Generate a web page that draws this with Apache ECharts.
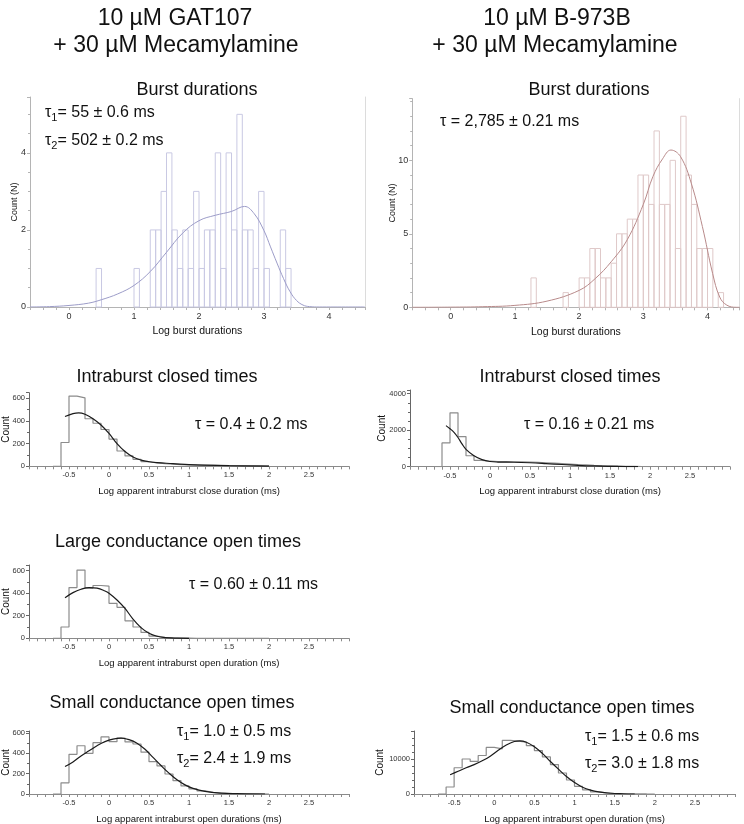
<!DOCTYPE html>
<html><head><meta charset="utf-8">
<script src="https://cdn.jsdelivr.net/npm/echarts@6/dist/echarts.min.js"></script>
<style>html,body{margin:0;padding:0;background:#fff}#c{width:744px;height:824px}</style>
</head><body><div id="c"></div>
<script>
// ---------------- DATA ----------------
// Burst durations, GAT107 (histogram bins: left edge, width, count)
const burstBinWidth = 0.0833;
const gatBurstLo = [0.417, 1.0, 1.25, 1.333, 1.417, 1.5, 1.583, 1.667, 1.75, 1.833, 1.917, 2.0, 2.083, 2.167, 2.25, 2.333, 2.417, 2.5, 2.583, 2.667, 2.75, 2.833, 2.917, 3.0, 3.25, 3.333];
const gatBurstCounts = [1, 1, 2, 2, 3, 4, 2, 1, 2, 1, 3, 1, 2, 2, 4, 1, 4, 2, 5, 2, 2, 1, 3, 1, 2, 1];
const gatBurstFitX = [-0.6, -0.3, 0, 0.3, 0.5, 0.75, 1.0, 1.25, 1.5, 1.75, 2.0, 2.25, 2.5, 2.7, 2.85, 3.0, 3.1, 3.2, 3.3, 3.4, 3.5, 3.6, 3.7, 3.85, 4.55];
const gatBurstFitY = [0, 0.01, 0.04, 0.1, 0.19, 0.34, 0.56, 0.92, 1.42, 1.92, 2.24, 2.38, 2.48, 2.61, 2.42, 1.98, 1.56, 1.14, 0.74, 0.4, 0.17, 0.05, 0.01, 0, 0];

// Burst durations, B-973B
const bBurstLo = [1.25, 1.75, 2.0, 2.083, 2.167, 2.25, 2.333, 2.417, 2.5, 2.583, 2.667, 2.75, 2.833, 2.917, 3.0, 3.083, 3.167, 3.25, 3.333, 3.417, 3.5, 3.583, 3.667, 3.75, 3.833, 3.917, 4.0, 4.167];
const bBurstCounts = [2, 1, 2, 2, 4, 4, 2, 2, 3, 5, 5, 6, 6, 9, 9, 7, 12, 7, 7, 10, 4, 13, 9, 7, 4, 4, 4, 1];
const bBurstFitX = [-0.6, 0, 0.5, 1.0, 1.5, 2.0, 2.25, 2.5, 2.75, 3.0, 3.15, 3.3, 3.43, 3.58, 3.75, 3.92, 4.08, 4.19, 4.3, 4.45, 4.5];
const bBurstFitY = [0, 0.01, 0.04, 0.13, 0.42, 1.15, 1.95, 3.1, 4.6, 7.0, 8.9, 10.1, 10.7, 10.25, 8.4, 5.5, 2.3, 0.7, 0.15, 0, 0];

// Shared bin edges of the log-duration histograms (28 edges, 27 bins)
const logEdges = [-0.7, -0.6, -0.5, -0.4, -0.3, -0.2, -0.1, 0, 0.1, 0.2, 0.3, 0.4, 0.5, 0.6, 0.7, 0.8, 0.9, 1.0, 1.1, 1.2, 1.3, 1.4, 1.5, 1.6, 1.7, 1.8, 1.9, 2.0];

// Intraburst closed times, GAT107
const gatClosedCounts = [0, 210, 620, 605, 420, 380, 325, 240, 135, 92, 62, 42, 30, 24, 19, 15, 12, 10, 9, 8, 7, 6, 5, 4, 3, 3, 2];
const gatClosedFitX = [-0.55, -0.45, -0.38, -0.3, -0.2, -0.1, 0, 0.1, 0.2, 0.3, 0.4, 0.5, 0.6, 0.8, 1.0, 1.2, 1.5, 2.0];
const gatClosedFitY = [440, 465, 472, 460, 420, 365, 290, 200, 130, 82, 55, 40, 32, 24, 15, 10, 6, 2];

// Intraburst closed times, B-973B
const bClosedCounts = [0, 1300, 2950, 1650, 600, 350, 300, 280, 275, 270, 260, 250, 235, 215, 195, 170, 145, 120, 100, 80, 62, 48, 36, 26, 18, 12, 8];
const bClosedFitX = [-0.55, -0.5, -0.45, -0.4, -0.35, -0.3, -0.2, -0.1, 0, 0.1, 0.3, 0.5, 0.7, 0.9, 1.1, 1.3, 1.5, 1.7, 1.85];
const bClosedFitY = [2250, 2080, 1880, 1600, 1250, 950, 600, 390, 285, 255, 245, 215, 170, 120, 75, 40, 20, 8, 2];

// Large conductance open times, GAT107
const gatLargeCounts = [0, 100, 450, 605, 445, 468, 462, 310, 275, 155, 100, 52, 20, 8, 4, 2, 1, 0, 0, 0, 0, 0, 0, 0, 0, 0, 0];
const gatLargeFitX = [-0.55, -0.45, -0.35, -0.25, -0.15, -0.05, 0, 0.1, 0.2, 0.3, 0.4, 0.5, 0.6, 0.7, 0.85, 1.0];
const gatLargeFitY = [360, 405, 435, 450, 445, 420, 400, 340, 265, 170, 95, 45, 18, 6, 1, 0];

// Small conductance open times, GAT107
const gatSmallCounts = [0, 110, 390, 475, 400, 505, 562, 515, 550, 512, 492, 412, 318, 276, 197, 131, 79, 50, 30, 16, 9, 5, 3, 2, 1, 1, 0];
const gatSmallFitX = [-0.55, -0.45, -0.35, -0.25, -0.15, -0.05, 0.05, 0.15, 0.25, 0.35, 0.45, 0.55, 0.65, 0.75, 0.85, 0.95, 1.05, 1.2, 1.4, 1.6, 1.95];
const gatSmallFitY = [270, 315, 375, 425, 475, 515, 540, 550, 535, 500, 440, 360, 280, 205, 140, 90, 55, 25, 8, 3, 0];

// Small conductance open times, B-973B
const bSmallCounts = [0, 2000, 7500, 10000, 9300, 11000, 13300, 12900, 15300, 15100, 14800, 13800, 12400, 10600, 8400, 6000, 4000, 2200, 1200, 600, 300, 150, 80, 40, 20, 10, 5];
const bSmallFitX = [-0.55, -0.45, -0.35, -0.25, -0.15, -0.05, 0.05, 0.15, 0.25, 0.32, 0.4, 0.5, 0.6, 0.7, 0.8, 0.9, 1.0, 1.1, 1.2, 1.3, 1.45, 1.6, 1.75];
const bSmallFitY = [5500, 6500, 7500, 8400, 9500, 10800, 12500, 14000, 15000, 15200, 14800, 13500, 11600, 9300, 7100, 5000, 3300, 1950, 1100, 600, 220, 70, 0];

// ---------------- BUILD ----------------
const FONT = 'Liberation Sans, Arial, sans-serif';
const grids = [], xAxes = [], yAxes = [], series = [];
const plainNum = v => String(v);

function pairs(xs, ys) { return xs.map((x, i) => [x, ys[i]]); }
function stepData(edges, counts) {
  const d = counts.map((c, i) => [edges[i], c]);
  d.push([edges[counts.length], counts[counts.length - 1]]);
  return d;
}

function addPanel(p) {
  const gi = grids.length;
  grids.push({ left: p.left, top: p.top, width: p.width, height: p.height, outerBoundsMode: 'none', containLabel: false });
  const xa = {
    gridIndex: gi, type: 'value', min: p.xmin, max: p.xmax,
    name: p.xname, nameLocation: 'middle', nameGap: p.xnameGap, nameMoveOverlap: false,
    nameTextStyle: { fontSize: p.xnameSize, color: '#111', fontFamily: FONT },
    axisLine: { onZero: false, lineStyle: { color: p.axisColor, width: 1 } },
    axisTick: { show: true, length: 3, lineStyle: { color: p.axisColor } },
    minorTick: { show: true, splitNumber: p.xMinor, length: 3, lineStyle: { color: p.axisColor } },
    axisLabel: { fontSize: p.tickSize, color: '#333', margin: 5, fontFamily: FONT, showMinLabel: false, showMaxLabel: false, formatter: plainNum },
    splitLine: { show: false }
  };
  if (p.xinterval) xa.interval = p.xinterval; else xa.splitNumber = 5;
  xAxes.push(xa);
  const yi = yAxes.length;
  yAxes.push({
    gridIndex: gi, type: 'value', min: 0, max: p.ymax, interval: p.yinterval,
    name: p.yname, nameLocation: 'middle', nameGap: p.ynameGap, nameMoveOverlap: false,
    nameTextStyle: { fontSize: p.ynameSize, color: '#111', fontFamily: FONT },
    axisLine: { onZero: false, lineStyle: { color: p.yAxisColor || p.axisColor, width: 1 } },
    axisTick: { show: true, length: 3, lineStyle: { color: p.yAxisColor || p.axisColor } },
    minorTick: { show: true, splitNumber: p.yMinor, length: 2, lineStyle: { color: p.yAxisColor || p.axisColor } },
    axisLabel: { fontSize: p.tickSize, color: '#333', margin: 4, fontFamily: FONT, showMaxLabel: false, formatter: plainNum },
    splitLine: { show: false }
  });
  if (p.rightBorder) {
    yAxes.push({
      gridIndex: gi, type: 'value', position: 'right', min: 0, max: p.ymax,
      axisLine: { show: true, onZero: false, lineStyle: { color: p.rightBorder } },
      axisTick: { show: false }, axisLabel: { show: false }, splitLine: { show: false }
    });
  }
  if (p.rects) {
    const col = p.histColor;
    series.push({
      type: 'custom', xAxisIndex: gi, yAxisIndex: yi, silent: true, z: 2,
      data: p.rects.lo.map((l, i) => [l, l + p.rects.w, p.rects.counts[i]]),
      encode: { x: [0, 1], y: 2 },
      renderItem: function (params, api) {
        const a = api.coord([api.value(0), 0]);
        const b = api.coord([api.value(1), api.value(2)]);
        return { type: 'rect', shape: { x: a[0], y: b[1], width: b[0] - a[0], height: a[1] - b[1] },
                 style: { fill: 'none', stroke: col, lineWidth: 1 } };
      }
    });
  }
  if (p.step) {
    series.push({
      type: 'line', xAxisIndex: gi, yAxisIndex: yi, step: 'end', symbol: 'none', silent: true, z: 2,
      data: stepData(logEdges, p.step),
      lineStyle: { color: p.histColor, width: 1.2 }
    });
  }
  series.push({
    type: 'line', xAxisIndex: gi, yAxisIndex: yi, smooth: 0.4, symbol: 'none', silent: true, z: 3,
    data: pairs(p.fitX, p.fitY),
    lineStyle: { color: p.fitColor, width: p.fitWidth || 1.2 }
  });
}

// Panel 1 – GAT107 burst durations
addPanel({ left: 30, top: 97, width: 334.75, height: 210, xmin: -0.6, xmax: 4.55, xMinor: 5,
  ymax: 5.45, yinterval: 2, yMinor: 4, axisColor: '#b4b4b4', tickSize: 9,
  xname: 'Log burst durations', xnameGap: 19, xnameSize: 10.5,
  yname: 'Count (N)', ynameGap: 11, ynameSize: 9, rightBorder: '#dcdcdc',
  rects: { lo: gatBurstLo, counts: gatBurstCounts, w: burstBinWidth }, histColor: '#c9c9e3',
  fitX: gatBurstFitX, fitY: gatBurstFitY, fitColor: '#9c9cc8', fitWidth: 1 });
// Panel 2 – B-973B burst durations
addPanel({ left: 412.2, top: 98.6, width: 327.4, height: 208.7, xmin: -0.6, xmax: 4.5, xMinor: 5,
  ymax: 14.2, yinterval: 5, yMinor: 5, axisColor: '#b4b4b4', tickSize: 9,
  xname: 'Log burst durations', xnameGap: 19, xnameSize: 10.5,
  yname: 'Count (N)', ynameGap: 15, ynameSize: 9, rightBorder: '#dcdcdc',
  rects: { lo: bBurstLo, counts: bBurstCounts, w: burstBinWidth }, histColor: '#dfc9c9',
  fitX: bBurstFitX, fitY: bBurstFitY, fitColor: '#b88a8a', fitWidth: 1 });
// Panel 3 – GAT107 intraburst closed
addPanel({ left: 29, top: 392.7, width: 320, height: 73.6, xmin: -1, xmax: 3, xinterval: 0.5, xMinor: 5,
  ymax: 650, yinterval: 200, yMinor: 2, axisColor: '#8a8a8a', yAxisColor: '#666', tickSize: 7.5,
  xname: 'Log apparent intraburst close duration (ms)', xnameGap: 20, xnameSize: 9.5,
  yname: 'Count', ynameGap: 18, ynameSize: 10,
  step: gatClosedCounts, histColor: '#8c8c8c', fitX: gatClosedFitX, fitY: gatClosedFitY, fitColor: '#1a1a1a' });
// Panel 4 – B-973B intraburst closed
addPanel({ left: 410, top: 390, width: 320, height: 76.7, xmin: -1, xmax: 3, xinterval: 0.5, xMinor: 5,
  ymax: 4200, yinterval: 2000, yMinor: 4, axisColor: '#8a8a8a', yAxisColor: '#666', tickSize: 7.5,
  xname: 'Log apparent intraburst close duration (ms)', xnameGap: 20, xnameSize: 9.5,
  yname: 'Count', ynameGap: 23, ynameSize: 10,
  step: bClosedCounts, histColor: '#8c8c8c', fitX: bClosedFitX, fitY: bClosedFitY, fitColor: '#1a1a1a' });
// Panel 5 – GAT107 large conductance open
addPanel({ left: 29, top: 565, width: 320, height: 73.3, xmin: -1, xmax: 3, xinterval: 0.5, xMinor: 5,
  ymax: 650, yinterval: 200, yMinor: 2, axisColor: '#8a8a8a', yAxisColor: '#666', tickSize: 7.5,
  xname: 'Log apparent intraburst open duration (ms)', xnameGap: 20, xnameSize: 9.5,
  yname: 'Count', ynameGap: 18, ynameSize: 10,
  step: gatLargeCounts, histColor: '#8c8c8c', fitX: gatLargeFitX, fitY: gatLargeFitY, fitColor: '#1a1a1a' });
// Panel 6 – GAT107 small conductance open
addPanel({ left: 29, top: 731, width: 320, height: 63, xmin: -1, xmax: 3, xinterval: 0.5, xMinor: 5,
  ymax: 620, yinterval: 200, yMinor: 2, axisColor: '#8a8a8a', yAxisColor: '#666', tickSize: 7.5,
  xname: 'Log apparent intraburst open durations (ms)', xnameGap: 20, xnameSize: 9.5,
  yname: 'Count', ynameGap: 18, ynameSize: 10,
  step: gatSmallCounts, histColor: '#8c8c8c', fitX: gatSmallFitX, fitY: gatSmallFitY, fitColor: '#1a1a1a' });
// Panel 7 – B-973B small conductance open
addPanel({ left: 414, top: 731, width: 321, height: 63, xmin: -1, xmax: 3, xinterval: 0.5, xMinor: 5,
  ymax: 18000, yinterval: 10000, yMinor: 5, axisColor: '#8a8a8a', yAxisColor: '#666', tickSize: 7.5,
  xname: 'Log apparent intraburst open duration (ms)', xnameGap: 20, xnameSize: 9.5,
  yname: 'Count', ynameGap: 29, ynameSize: 10,
  step: bSmallCounts, histColor: '#8c8c8c', fitX: bSmallFitX, fitY: bSmallFitY, fitColor: '#1a1a1a' });

// ---------------- TEXT ----------------
function ctext(x, y, text, size) {
  return { type: 'text', x: x, y: y, silent: true,
    style: { text: text, fontSize: size, fontFamily: FONT, fill: '#111', align: 'center', verticalAlign: 'middle' } };
}
function tau(x, y, sub, rest) {
  const t = sub ? '{a|τ}{b|' + sub + '}{a|' + rest + '}' : '{a|τ' + rest + '}';
  return { type: 'text', x: x, y: y, silent: true,
    style: { text: t, fontFamily: FONT, fill: '#111', align: 'left', verticalAlign: 'middle',
      rich: { a: { fontSize: 16, fontFamily: FONT, fill: '#111' },
              b: { fontSize: 11, fontFamily: FONT, fill: '#111', padding: [9, 0, 0, 0] } } } };
}
const graphics = [
  ctext(175, 19, '10 µM GAT107', 23), ctext(176, 46, '+ 30 µM Mecamylamine', 23),
  ctext(557, 19, '10 µM B-973B', 23), ctext(555, 46, '+ 30 µM Mecamylamine', 23),
  ctext(197, 90, 'Burst durations', 18), ctext(589, 90, 'Burst durations', 18),
  tau(45, 113, '1', '= 55 ± 0.6 ms'), tau(45, 141, '2', '= 502 ± 0.2 ms'),
  tau(440, 122, '', ' = 2,785 ± 0.21 ms'),
  ctext(167, 377, 'Intraburst closed times', 18), ctext(570, 377, 'Intraburst closed times', 18),
  tau(195, 425, '', ' = 0.4 ± 0.2 ms'), tau(524, 425, '', ' = 0.16 ± 0.21 ms'),
  ctext(178, 542, 'Large conductance open times', 18),
  tau(189, 585, '', ' = 0.60 ± 0.11 ms'),
  ctext(172, 703, 'Small conductance open times', 18), ctext(572, 708, 'Small conductance open times', 18),
  tau(177, 732, '1', '= 1.0 ± 0.5 ms'), tau(177, 759, '2', '= 2.4 ± 1.9 ms'),
  tau(585, 737, '1', '= 1.5 ± 0.6 ms'), tau(585, 764, '2', '= 3.0 ± 1.8 ms')
];

const chart = echarts.init(document.getElementById('c'), null, { renderer: 'canvas' });
chart.setOption({
  animation: false, backgroundColor: '#fff',
  textStyle: { fontFamily: FONT },
  grid: grids, xAxis: xAxes, yAxis: yAxes, series: series, graphic: graphics
});
</script></body></html>
